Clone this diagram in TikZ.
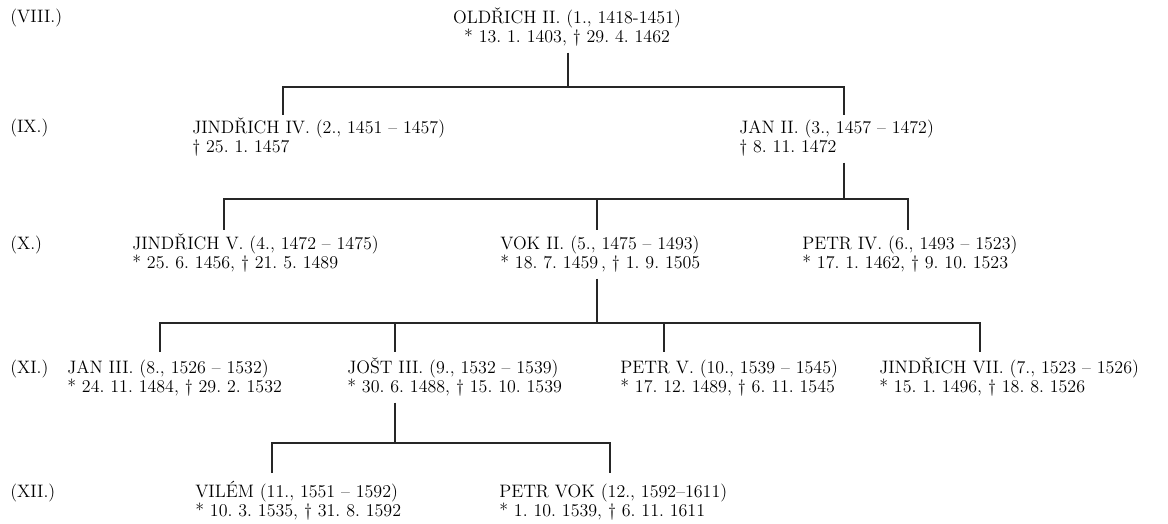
\documentclass[tikz,border=0pt]{standalone}
\def\pers#1#2{\rule{0pt}{12pt}#1\\#2\rule[-4pt]{0pt}{4pt}}

\begin{document}
\begin{tikzpicture}[x=0.025cm, y=-0.025cm,
	line/.style={line width=0.9pt, color=black!85},
	person/.style={anchor=north west, yshift=12pt, align=left, inner sep=0pt, font=\fontsize{12.8}{13.82}\selectfont\frenchspacing},
	gen/.style={anchor=base west, inner sep=0pt, font=\fontsize{12.8}{13.82}\selectfont}]
	%%%%% START %%%%%
	\useasboundingbox (0, 0) rectangle (1168, 524);
	
	% generations
	\node[gen] (g8) at (10, 23) {(VIII.)};
	\node[gen] (g9) at (10, 133) {(IX.)};
	\node[gen] (g10) at (10, 249) {(X.)};
	\node[gen] (g11) at (10, 373) {(XI.)};
	\node[gen] (g12) at (10, 497) {(XII.)};
	
	% VIII.
	\node[person, anchor=north, align=center] (oldrich2) at (567, 23) {\pers{OLDŘICH II. (1., 1418-1451)}{* 13. 1. 1403, \textdagger{} 29. 4. 1462}};
	
	% IX.
	\node[person] (jindrich4) at (192, 133) {\pers{JINDŘICH IV. (2., 1451 -- 1457)}{\textdagger{} 25. 1. 1457}};
	\node[person] (jan2) at (739, 133) {\pers{JAN II. (3., 1457 -- 1472)}{\textdagger{} 8. 11. 1472}};
	
	% X.
	\node[person] (jindrich5) at (132, 249) {\pers{JINDŘICH V. (4., 1472 -- 1475)}{* 25. 6. 1456, \textdagger{} 21. 5. 1489}};
	\node[person] (vok2) at (500, 249) {\pers{VOK II. (5., 1475 -- 1493)}{* 18. 7. 1459\,, \textdagger{} 1. 9. 1505}};
	\node[person] (petr4) at (802, 249) {\pers{PETR IV. (6., 1493 -- 1523)}{* 17. 1. 1462, \textdagger{} 9. 10. 1523}};
	
	% XI.
	\node[person] (jan3) at (67, 373) {\pers{JAN III. (8., 1526 -- 1532)}{* 24. 11. 1484, \textdagger{} 29. 2. 1532}};
	\node[person] (jost3) at (347, 373) {\pers{JOŠT III. (9., 1532 -- 1539)}{* 30. 6. 1488, \textdagger{} 15. 10. 1539}};
	\node[person] (petr5) at (620, 373) {\pers{PETR V. (10., 1539 -- 1545)}{* 17. 12. 1489, \textdagger{} 6. 11. 1545}};
	\node[person] (jindrich7) at (879, 373) {\pers{JINDŘICH VII. (7., 1523 -- 1526)}{* 15. 1. 1496, \textdagger{} 18. 8. 1526}};
	
	% XII.
	\node[person] (vilem) at (195, 497) {\pers{VILÉM (11., 1551 -- 1592)}{* 10. 3. 1535, \textdagger{} 31. 8. 1592}};
	\node[person] (petrvok) at (499, 497) {\pers{PETR VOK (12., 1592--1611)}{* 1. 10. 1539, \textdagger{} 6. 11. 1611}};
	
	% forks and tips
	\coordinate (fork1) at (568, 87);
	\coordinate (t-jindrich4) at (283, 115);
	\coordinate (t-jan2) at (844, 115);
	
	\coordinate (fork2) at (844, 199);
	\coordinate (t-jindrich5) at (224, 230);
	\coordinate (t-vok2) at (597, 230);
	\coordinate (t-petr4) at (908, 230);
	
	\coordinate (fork3) at (597, 323);
	\coordinate (t-jan3) at (160, 352);
	\coordinate (t-jost3) at (395, 352);
	\coordinate (t-petr5) at (664, 352);
	\coordinate (t-jindrich7) at (980, 352);
	
	\coordinate (fork4) at (395, 443);
	\coordinate (t-vilem) at (272, 473);
	\coordinate (t-petrvok) at (610, 473);
	
	% lines
	\draw[line] (oldrich2.south -| fork1) ++(0, 4) -- (fork1);
	\draw[line] (t-jindrich4) |- (fork1) -| (t-jan2);
	
	\draw[line] (jan2.south -| fork2) ++(0, 4) -- (fork2);
	\draw[line] (t-jindrich5) |- (fork2) -| (t-petr4);
	\draw[line] (t-vok2 |- fork2) -- (t-vok2);
	
	\draw[line] (vok2.south -| fork3) ++(0, 4) -- (fork3);
	\draw[line] (t-jan3) |- (fork3) -| (t-jindrich7);
	\draw[line] (t-jost3 |- fork3) -- (t-jost3);
	\draw[line] (t-petr5 |- fork3) -- (t-petr5);
	
	\draw[line] (jost3.south -| fork4) ++(0, 4) -- (fork4);
	\draw[line] (t-vilem) |- (fork4) -| (t-petrvok);
	
	%%%%% END %%%%%
\end{tikzpicture}
\end{document}
